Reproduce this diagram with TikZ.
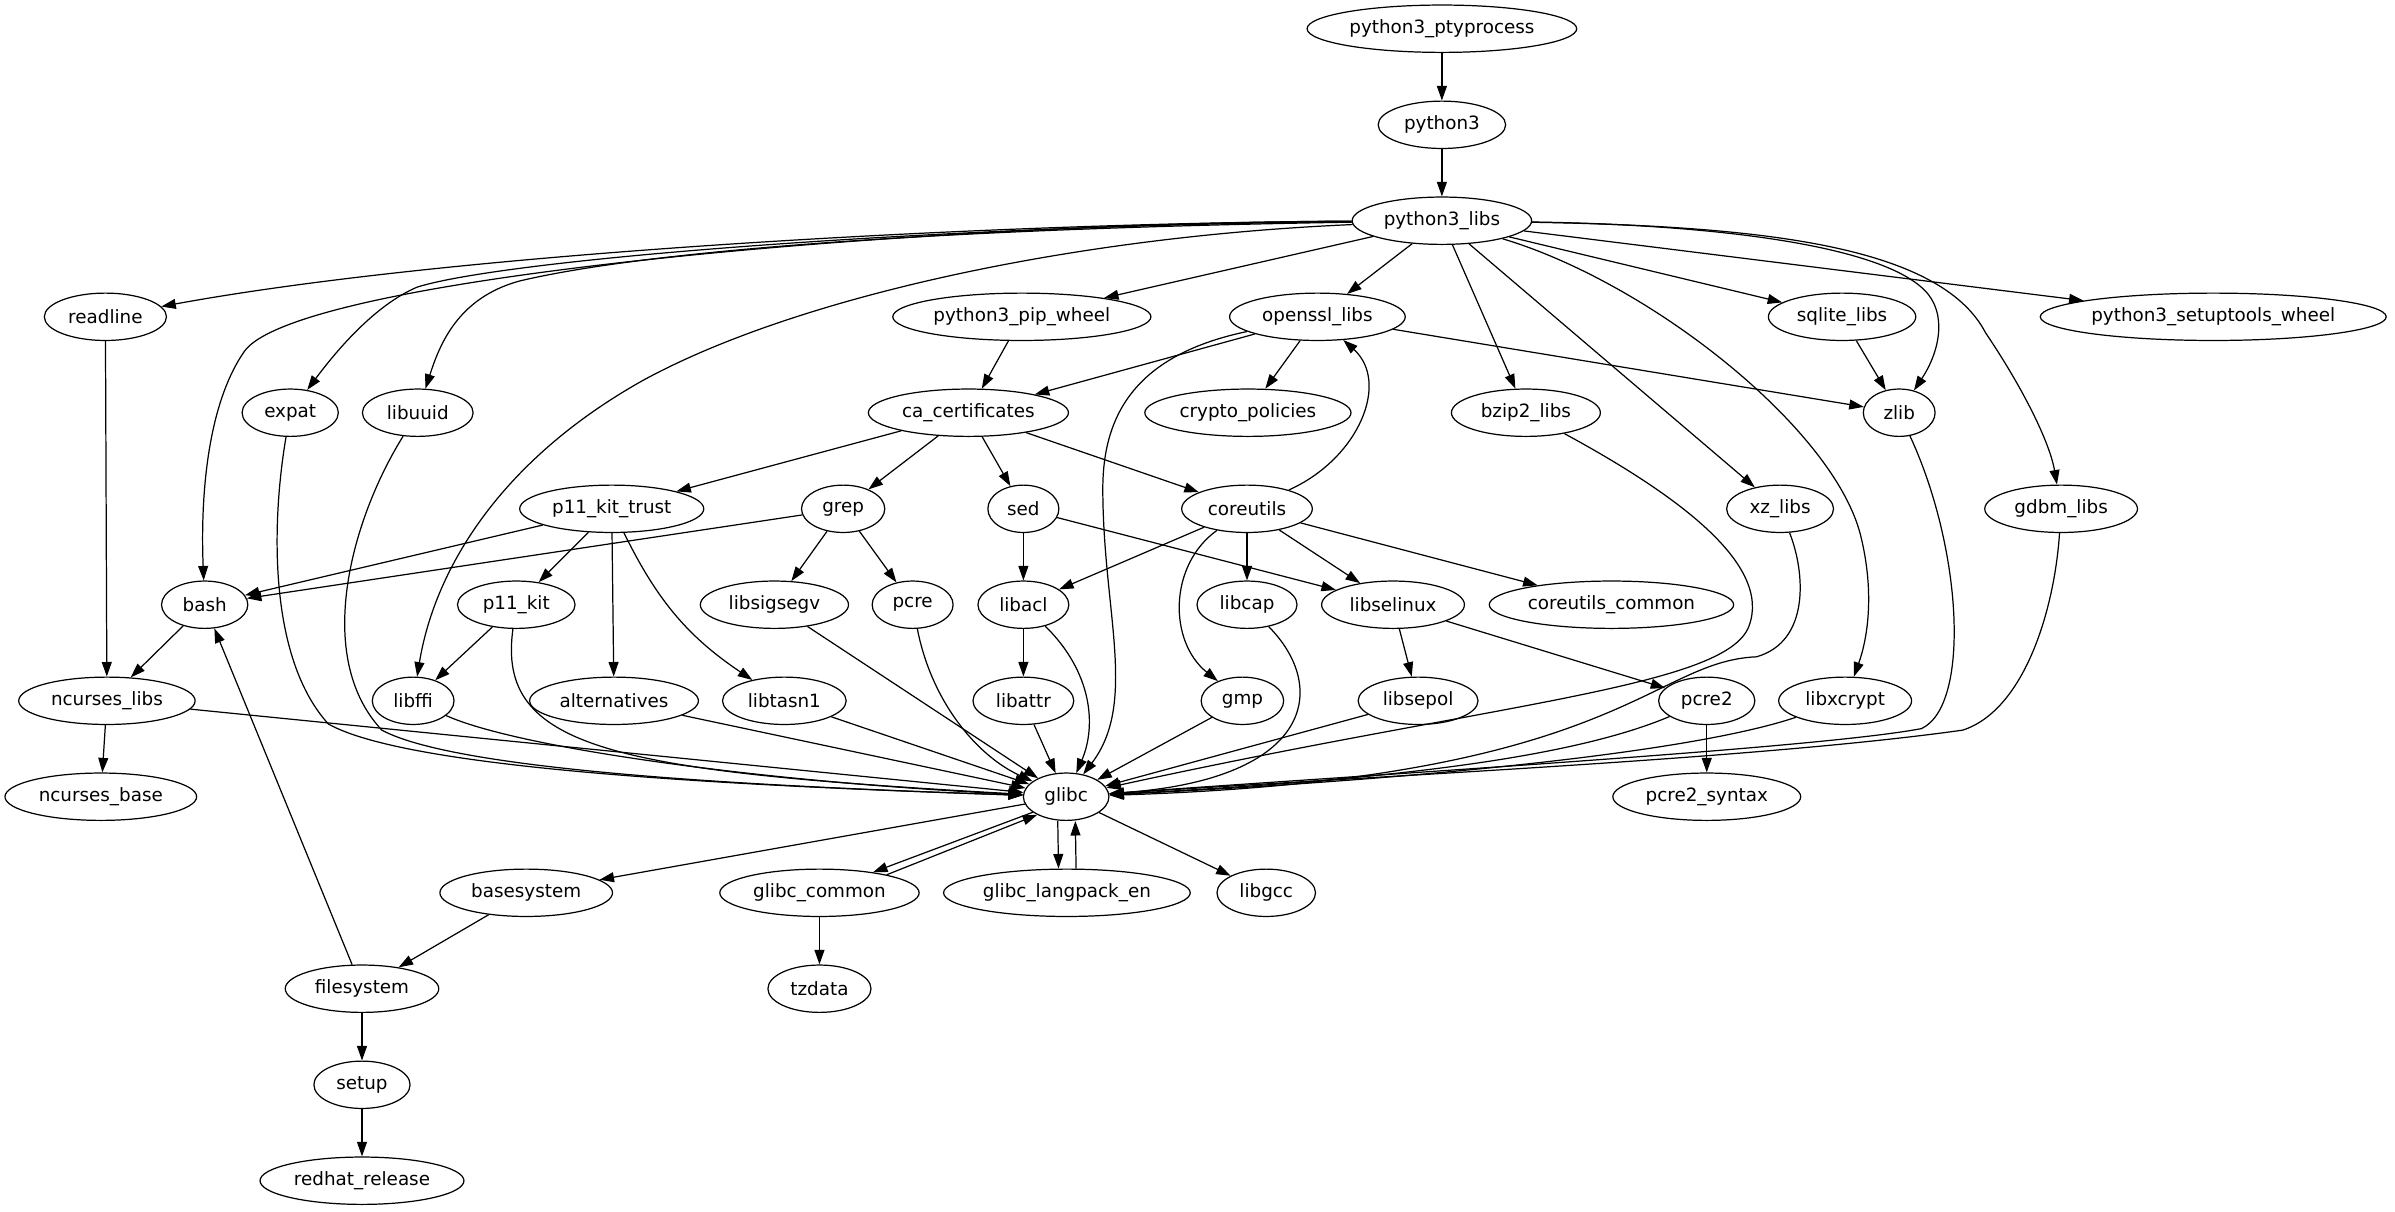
\documentclass[tikz,border=0pt]{standalone}
\usepackage{fontspec}
\setmainfont{DejaVu Sans}
\usepackage{tikz}
\usetikzlibrary{arrows.meta,shapes.geometric}

\tikzset{
  pkg/.style={draw, ellipse, line width=0.8pt, inner sep=0pt, minimum height=31pt, font=\fontsize{12pt}{14pt}\selectfont},
  dep/.style={-{Triangle[length=9.5pt,width=6.5pt]}, line width=0.8pt}
}

\begin{document}
\begin{tikzpicture}[x=1pt, y=1pt]
  \useasboundingbox (0,0) rectangle (1568,-793);

  % Top of the tree
  \node[pkg, minimum width=176.5pt] (python3_ptyprocess) at (944,-18.8) {python3\_ptyprocess};
  \node[pkg, minimum width=83.5pt] (python3) at (944,-81.7) {python3};
  \node[pkg, minimum width=117.5pt] (python3_libs) at (944,-144.5) {python3\_libs};

  % Row 3
  \node[pkg, minimum width=80pt] (readline) at (69,-207.4) {readline};
  \node[pkg, minimum width=169pt] (python3_pip_wheel) at (669,-207.4) {python3\_pip\_wheel};
  \node[pkg, minimum width=115pt] (openssl_libs) at (862.5,-207.4) {openssl\_libs};
  \node[pkg, minimum width=96.5pt] (sqlite_libs) at (1206,-207.4) {sqlite\_libs};
  \node[pkg, minimum width=226.5pt] (python3_setuptools_wheel) at (1449,-207.4) {python3\_setuptools\_wheel};

  % Row 4
  \node[pkg, minimum width=63pt] (expat) at (190,-270.2) {expat};
  \node[pkg, minimum width=72.5pt] (libuuid) at (273.5,-270.2) {libuuid};
  \node[pkg, minimum width=131pt] (ca_certificates) at (634,-270.2) {ca\_certificates};
  \node[pkg, minimum width=135pt] (crypto_policies) at (817,-270.2) {crypto\_policies};
  \node[pkg, minimum width=97.5pt] (bzip2_libs) at (999,-270.2) {bzip2\_libs};
  \node[pkg, minimum width=47pt] (zlib) at (1243.4,-270.2) {zlib};

  % Row 5
  \node[pkg, minimum width=120.5pt] (p11_kit_trust) at (400.5,-333.1) {p11\_kit\_trust};
  \node[pkg, minimum width=54.5pt] (grep) at (552,-333.1) {grep};
  \node[pkg, minimum width=46.5pt] (sed) at (670,-333.1) {sed};
  \node[pkg, minimum width=85.5pt] (coreutils) at (816.4,-333.1) {coreutils};
  \node[pkg, minimum width=70pt] (xz_libs) at (1165.4,-333.1) {xz\_libs};
  \node[pkg, minimum width=100pt] (gdbm_libs) at (1349.4,-333.1) {gdbm\_libs};

  % Row 6
  \node[pkg, minimum width=56.5pt] (bash) at (134,-395.9) {bash};
  \node[pkg, minimum width=77pt] (p11_kit) at (338,-395.9) {p11\_kit};
  \node[pkg, minimum width=97pt] (libsigsegv) at (507,-395.9) {libsigsegv};
  \node[pkg, minimum width=53pt] (pcre) at (597.5,-395.9) {pcre};
  \node[pkg, minimum width=59.5pt] (libacl) at (670,-395.9) {libacl};
  \node[pkg, minimum width=65.5pt] (libcap) at (816.4,-395.9) {libcap};
  \node[pkg, minimum width=93.5pt] (libselinux) at (912,-395.9) {libselinux};
  \node[pkg, minimum width=160pt] (coreutils_common) at (1055,-395.9) {coreutils\_common};

  % Row 7
  \node[pkg, minimum width=115.5pt] (ncurses_libs) at (70,-458.8) {ncurses\_libs};
  \node[pkg, minimum width=53.5pt] (libffi) at (270.5,-458.8) {libffi};
  \node[pkg, minimum width=110.5pt] (alternatives) at (402,-458.8) {alternatives};
  \node[pkg, minimum width=81pt] (libtasn1) at (513.5,-458.8) {libtasn1};
  \node[pkg, minimum width=66pt] (libattr) at (670,-458.8) {libattr};
  \node[pkg, minimum width=54pt] (gmp) at (813.4,-458.8) {gmp};
  \node[pkg, minimum width=78.5pt] (libsepol) at (928.4,-458.8) {libsepol};
  \node[pkg, minimum width=63pt] (pcre2) at (1117.4,-458.8) {pcre2};
  \node[pkg, minimum width=87pt] (libxcrypt) at (1208,-458.8) {libxcrypt};

  % Row 8
  \node[pkg, minimum width=125.5pt] (ncurses_base) at (66,-521.6) {ncurses\_base};
  \node[pkg, minimum width=56pt] (glibc) at (698,-521.6) {glibc};
  \node[pkg, minimum width=123pt] (pcre2_syntax) at (1117.4,-521.6) {pcre2\_syntax};

  % Bottom rows
  \node[pkg, minimum width=113pt] (basesystem) at (344.5,-584.5) {basesystem};
  \node[pkg, minimum width=130.5pt] (glibc_common) at (536.5,-584.5) {glibc\_common};
  \node[pkg, minimum width=161.5pt] (glibc_langpack_en) at (698.5,-584.5) {glibc\_langpack\_en};
  \node[pkg, minimum width=64.5pt] (libgcc) at (829,-584.5) {libgcc};
  \node[pkg, minimum width=100.5pt] (filesystem) at (237,-647.3) {filesystem};
  \node[pkg, minimum width=67.5pt] (tzdata) at (536.5,-647.3) {tzdata};
  \node[pkg, minimum width=63pt] (setup) at (237,-710.2) {setup};
  \node[pkg, minimum width=133.5pt] (redhat_release) at (237,-773) {redhat\_release};

  % python3 chain
  \draw[dep] (python3_ptyprocess) -- (python3);
  \draw[dep] (python3) -- (python3_libs);

  % python3_libs, long curves to the left
  \draw[dep] (python3_libs) .. controls (650,-146) and (300,-165) .. (readline);
  \draw[dep] (python3_libs) .. controls (600,-146) and (195,-181) .. (160,-230) .. controls (137,-263) and (131,-320) .. (bash);
  \draw[dep] (python3_libs) .. controls (600,-148) and (330,-170) .. (273,-188) .. controls (245,-200) and (220,-230) .. (expat);
  \draw[dep] (python3_libs) .. controls (600,-150) and (420,-165) .. (340,-184) .. controls (300,-195) and (288,-225) .. (libuuid);
  \draw[dep] (python3_libs) .. controls (700,-155) and (520,-195) .. (421,-249) .. controls (330,-300) and (285,-370) .. (libffi);

  % python3_libs, the rest
  \draw[dep] (python3_libs) -- (python3_pip_wheel);
  \draw[dep] (python3_libs) -- (openssl_libs);
  \draw[dep] (python3_libs) -- (bzip2_libs);
  \draw[dep] (python3_libs) -- (xz_libs);
  \draw[dep] (python3_libs) -- (sqlite_libs);
  \draw[dep] (python3_libs) -- (python3_setuptools_wheel);
  \draw[dep] (python3_libs) .. controls (1120,-147) and (1230,-160) .. (1260,-190) .. controls (1275,-205) and (1270,-230) .. (zlib);
  \draw[dep] (python3_libs) .. controls (1150,-148) and (1270,-160) .. (1300,-218) .. controls (1325,-255) and (1342,-290) .. (gdbm_libs);
  \draw[dep] (python3_libs) .. controls (1080,-185) and (1200,-280) .. (1218,-350) .. controls (1228,-390) and (1222,-420) .. (libxcrypt);

  % certificates and openssl
  \draw[dep] (python3_pip_wheel) -- (ca_certificates);
  \draw[dep] (openssl_libs) -- (ca_certificates);
  \draw[dep] (openssl_libs) -- (crypto_policies);
  \draw[dep] (openssl_libs) -- (zlib);
  \draw[dep] (sqlite_libs) -- (zlib);
  \draw[dep] (openssl_libs) .. controls (745,-232) and (722,-270) .. (722,-320) .. controls (722,-400) and (745,-460) .. (glibc);
  \draw[dep] (ca_certificates) -- (p11_kit_trust);
  \draw[dep] (ca_certificates) -- (grep);
  \draw[dep] (ca_certificates) -- (sed);
  \draw[dep] (ca_certificates) -- (coreutils);

  % coreutils
  \draw[dep] (coreutils) .. controls (890,-300) and (910,-250) .. (openssl_libs);
  \draw[dep] (coreutils) -- (libacl);
  \draw[dep] (coreutils) -- (libcap);
  \draw[dep] (coreutils) -- (libselinux);
  \draw[dep] (coreutils) -- (coreutils_common);
  \draw[dep] (coreutils) .. controls (765,-370) and (765,-420) .. (gmp);

  % middle rows
  \draw[dep] (p11_kit_trust) -- (bash);
  \draw[dep] (p11_kit_trust) -- (p11_kit);
  \draw[dep] (p11_kit_trust) -- (alternatives);
  \draw[dep] (p11_kit_trust) to[bend right=15] (libtasn1);
  \draw[dep] (grep) -- (bash);
  \draw[dep] (grep) -- (libsigsegv);
  \draw[dep] (grep) -- (pcre);
  \draw[dep] (sed) -- (libacl);
  \draw[dep] (sed) -- (libselinux);
  \draw[dep] (readline) -- (ncurses_libs);
  \draw[dep] (bash) -- (ncurses_libs);
  \draw[dep] (p11_kit) -- (libffi);
  \draw[dep] (libacl) -- (libattr);
  \draw[dep] (libselinux) -- (libsepol);
  \draw[dep] (libselinux) -- (pcre2);
  \draw[dep] (pcre2) -- (pcre2_syntax);
  \draw[dep] (ncurses_libs) -- (ncurses_base);

  % everything into glibc
  \draw[dep] (ncurses_libs) -- (glibc);
  \draw[dep] (expat) .. controls (178,-340) and (175,-430) .. (215,-474) .. controls (270,-505) and (500,-515) .. (glibc);
  \draw[dep] (libuuid) .. controls (230,-340) and (205,-430) .. (250,-478) .. controls (300,-505) and (500,-515) .. (glibc);
  \draw[dep] (p11_kit) .. controls (325,-490) and (400,-505) .. (glibc);
  \draw[dep] (libffi) .. controls (340,-490) and (500,-512) .. (glibc);
  \draw[dep] (alternatives) -- (glibc);
  \draw[dep] (libtasn1) -- (glibc);
  \draw[dep] (libsigsegv) -- (glibc);
  \draw[dep] (pcre) .. controls (610,-460) and (640,-495) .. (glibc);
  \draw[dep] (libattr) -- (glibc);
  \draw[dep] (libacl) .. controls (715,-440) and (718,-475) .. (glibc);
  \draw[dep] (gmp) -- (glibc);
  \draw[dep] (libcap) .. controls (870,-450) and (860,-510) .. (glibc);
  \draw[dep] (libsepol) -- (glibc);
  \draw[dep] (pcre2) .. controls (1020,-500) and (880,-512) .. (glibc);
  \draw[dep] (libxcrypt) .. controls (1100,-495) and (900,-512) .. (glibc);
  \draw[dep] (bzip2_libs) .. controls (1100,-325) and (1160,-370) .. (1145,-410) .. controls (1130,-450) and (980,-460) .. (glibc);
  \draw[dep] (xz_libs) .. controls (1182,-375) and (1185,-420) .. (1150,-430) .. controls (1080,-433) and (1060,-510) .. (glibc);
  \draw[dep] (zlib) .. controls (1285,-360) and (1290,-462) .. (1258,-477) .. controls (1190,-490) and (900,-507) .. (glibc);
  \draw[dep] (gdbm_libs) .. controls (1345,-400) and (1325,-465) .. (1285,-478) .. controls (1150,-497) and (900,-508) .. (glibc);

  % below glibc
  \draw[dep] (glibc) -- (basesystem);
  \draw[dep] (glibc.205) -- (glibc_common.21);
  \draw[dep] (glibc_common.15) -- (glibc.212);
  \draw[dep] ([xshift=-5.5pt]glibc.south) -- ([xshift=-5.5pt]glibc_langpack_en.north);
  \draw[dep] ([xshift=6pt]glibc_langpack_en.north) -- ([xshift=6pt]glibc.south);
  \draw[dep] (glibc) -- (libgcc);
  \draw[dep] (glibc_common) -- (tzdata);
  \draw[dep] (basesystem) -- (filesystem);
  \draw[dep] (filesystem) -- (bash);
  \draw[dep] (filesystem) -- (setup);
  \draw[dep] (setup) -- (redhat_release);
\end{tikzpicture}
\end{document}
